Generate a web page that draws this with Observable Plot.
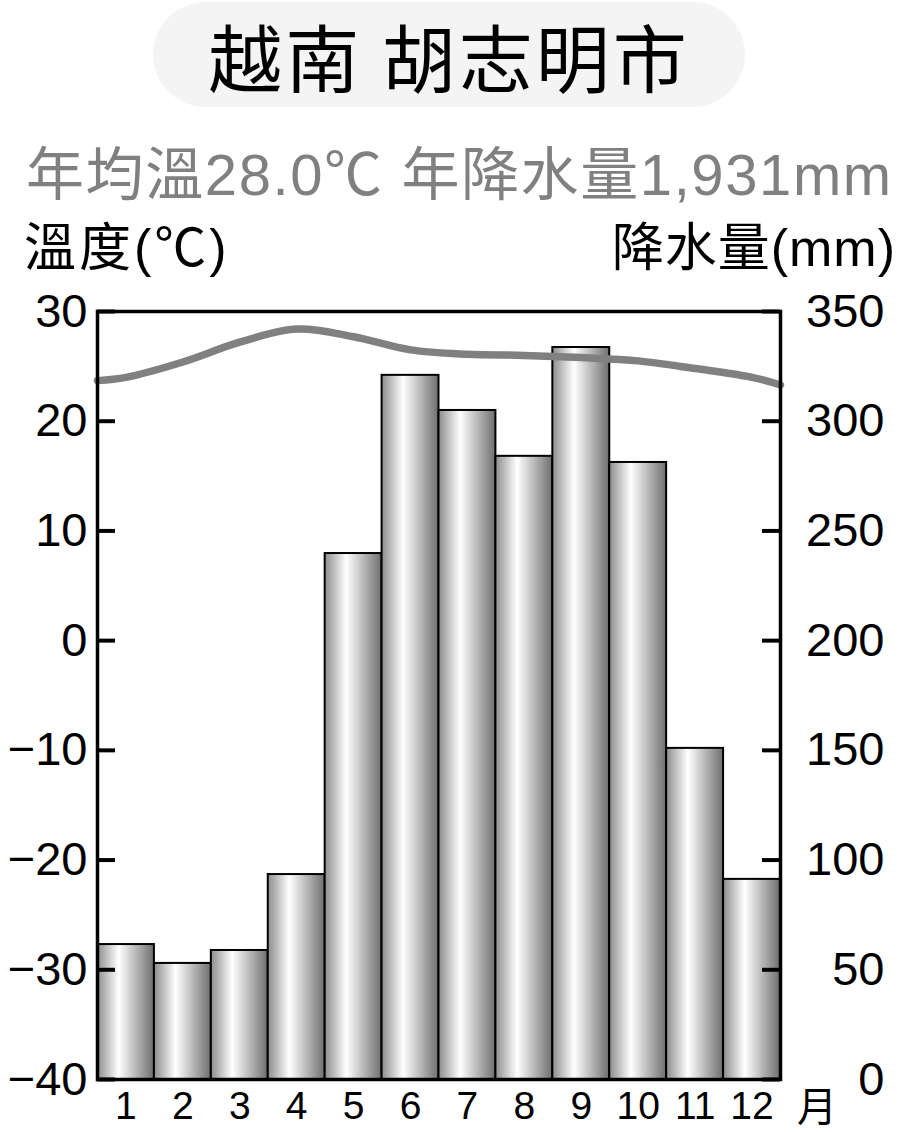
<!DOCTYPE html>
<html>
<head>
<meta charset="utf-8">
<script src="https://cdn.jsdelivr.net/npm/d3@7"></script>
<script src="https://cdn.jsdelivr.net/npm/@observablehq/plot@0.6"></script>
<style>
  html, body { margin: 0; padding: 0; background: #fff; }
  body { width: 900px; height: 1132px; position: relative; overflow: hidden;
         font-family: "Liberation Sans", "Noto Sans CJK TC", sans-serif; }
  .abs { position: absolute; white-space: nowrap; line-height: 1; }
  #titlebox { left: 153px; top: 2px; width: 592px; height: 105px; border-radius: 53px;
              background: #f4f4f4; text-align: center; line-height: 105px;
              font-family: "Noto Sans CJK TC", sans-serif; font-size: 74px; letter-spacing: 3px; color: #000; }
  #subtitle { left: 26px; top: 146px; font-size: 58px; letter-spacing: 1.6px; color: #808080; }
  #ylabL { left: 24px; top: 222px; font-size: 52px; letter-spacing: 3px; color: #000; }
  #ylabR { right: 4px; top: 222px; font-size: 52px; letter-spacing: 1px; color: #000; }
  #month { left: 797px; top: 1084px; font-size: 40px; color: #000;
           font-family: "Noto Sans CJK TC", sans-serif; }
  #chart { position: absolute; left: 0; top: 285px; }
</style>
</head>
<body>
<div id="titlebox" class="abs"></div>
<div id="subtitle" class="abs"></div>
<div id="ylabL" class="abs"></div>
<div id="ylabR" class="abs"></div>
<div id="month" class="abs"></div>
<div id="chart"></div>
<script>
// ---- text ----
const titleText = "越南 胡志明市";
const subtitleText = "年均溫28.0℃ 年降水量1,931mm";
const leftAxisTitle = "溫度(℃)";
const rightAxisTitle = "降水量(mm)";
const monthUnit = "月";

// ---- data ----
const months = [1, 2, 3, 4, 5, 6, 7, 8, 9, 10, 11, 12];
const precipitation = [61.5, 52.9, 58.8, 93.4, 239.7, 320.9, 304.9, 284.0, 333.6, 281.2, 150.9, 91.2];
// temperature curve (frame edges at 0.5 and 12.5)
const tempMonths = [0.5, 1, 2, 3, 4, 5, 6, 7, 8, 9, 10, 11, 12, 12.5];
const temperature = [23.7, 24.0, 25.4, 27.2, 28.4, 27.7, 26.5, 26.1, 26.0, 25.8, 25.5, 24.8, 24.0, 23.3];
const tempTicks = [-40, -30, -20, -10, 0, 10, 20, 30];
const precipTicks = [0, 50, 100, 150, 200, 250, 300, 350];

document.getElementById("titlebox").textContent = titleText;
document.getElementById("subtitle").textContent = subtitleText;
document.getElementById("ylabL").textContent = leftAxisTitle;
document.getElementById("ylabR").textContent = rightAxisTitle;
document.getElementById("month").textContent = monthUnit;

// temperature (-40..30) mapped onto precipitation scale (0..350)
const toY = t => (t + 40) * 5;
const fromY = p => p / 5 - 40;
const fmt = v => String(Math.round(v)).replace("-", "\u2212");

const bars = months.map((m, i) => ({month: m, precip: precipitation[i]}));
const temps = tempMonths.map((m, i) => ({month: m, temp: temperature[i]}));

const W = 900, H = 847;
const mL = 97, mR = 120, mT = 26, mB = 53;
const frameW = W - mL - mR;
const tickLen = 18;

const defs = () => {
  const g = d3.create("svg:defs");
  const lg = g.append("linearGradient").attr("id", "barGrad")
    .attr("x1", 0).attr("x2", 1).attr("y1", 0).attr("y2", 0);
  lg.append("stop").attr("offset", "0").attr("stop-color", "#8c8c8c");
  lg.append("stop").attr("offset", "0.38").attr("stop-color", "#ffffff");
  lg.append("stop").attr("offset", "1").attr("stop-color", "#6e6e6e");
  return g.node();
};

const chart = Plot.plot({
  width: W, height: H,
  marginLeft: mL, marginRight: mR, marginTop: mT, marginBottom: mB,
  style: {fontFamily: "'Liberation Sans', 'Noto Sans CJK TC', sans-serif", color: "#000", background: "transparent"},
  x: {domain: [0.5, 12.5]},
  y: {domain: [0, 350]},
  marks: [
    defs,
    Plot.rectY(bars, {x1: d => d.month - 0.5, x2: d => d.month + 0.5, y: "precip",
      fill: "url(#barGrad)", stroke: "#000", strokeWidth: 2}),
    Plot.line(temps, {x: "month", y: d => toY(d.temp), stroke: "#808080", strokeWidth: 7.5,
      curve: "catmull-rom"}),
    Plot.frame({stroke: "#000", strokeWidth: 3.5}),
    Plot.tickY(precipTicks, {y: d => d, insetRight: frameW - tickLen, stroke: "#000", strokeWidth: 4}),
    Plot.tickY(precipTicks, {y: d => d, insetLeft: frameW - tickLen, stroke: "#000", strokeWidth: 4}),
    Plot.axisY({anchor: "left", ticks: tempTicks.map(toY), tickFormat: d => fmt(fromY(d)),
      tickSize: 0, tickPadding: 10, fontSize: 47, label: null}),
    Plot.axisY({anchor: "right", ticks: precipTicks, tickFormat: d => fmt(d),
      tickSize: 0, tickPadding: 104, textAnchor: "end", fontSize: 47, label: null}),
    Plot.axisX({ticks: months, tickFormat: d => String(d), tickSize: 0, tickPadding: 12,
      fontSize: 39, label: null})
  ]
});
document.getElementById("chart").appendChild(chart);
</script>
</body>
</html>
